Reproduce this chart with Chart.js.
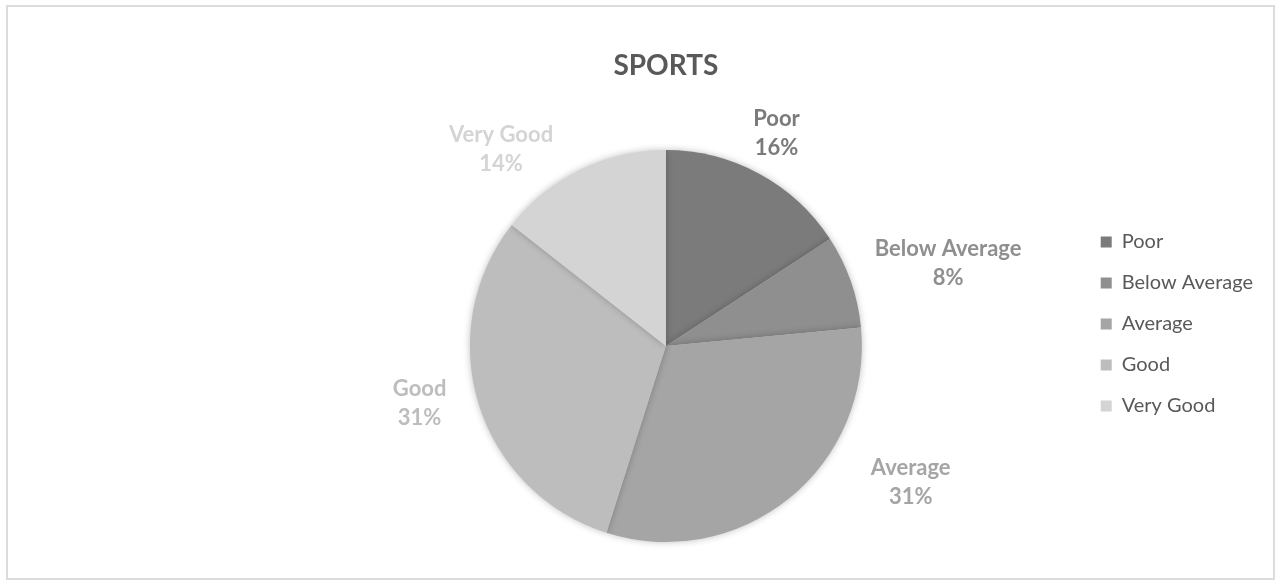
<!DOCTYPE html>
<html>
<head>
<meta charset="utf-8">
<script src="https://cdn.jsdelivr.net/npm/chart.js@4.4.1/dist/chart.umd.min.js"></script>
<style>
  body { margin: 0; background: #fff; }
  .marco { position: absolute; left: 6px; top: 5px; width: 1265px; height: 571px; border: 2px solid #dcdcdc; }
  .lienzo { position: absolute; left: 0; top: 0; width: 1275px; height: 580px; }
</style>
</head>
<body>
<div class="marco"></div>
<div class="lienzo"><canvas id="myChart"></canvas></div>
<script>
const categorias = ["Poor", "Below Average", "Average", "Good", "Very Good"]
const valores = [15.8, 7.7, 31.4, 30.7, 14.4]
const colores = ["#7b7b7b", "#8f8f8f", "#a5a5a5", "#bdbdbd", "#d4d4d4"]
const colorTexto = "#595959"

// donde va cada etiqueta: giro (grados) respecto al centro del sector y distancia en radios
const ubicacionEtiquetas = [
    { giro: -1, dist: 1.225 },
    { giro: 3, dist: 1.5 },
    { giro: -22, dist: 1.43 },
    { giro: 4, dist: 1.29 },
    { giro: -14, dist: 1.31 }
]

const sombraPie = {
    id: "sombraPie",
    beforeDatasetsDraw(chart) {
        const ctx = chart.ctx
        ctx.save()
        ctx.shadowColor = "rgba(0,0,0,0.25)"
        ctx.shadowBlur = 7
    },
    afterDatasetsDraw(chart) {
        chart.ctx.restore()
    }
}

const etiquetas = {
    id: "etiquetas",
    afterDraw(chart) {
        const ctx = chart.ctx
        const meta = chart.getDatasetMeta(0)
        const total = valores.reduce((a, b) => a + b, 0)
        ctx.save()
        ctx.font = "bold 22px Lato"
        ctx.textAlign = "center"
        ctx.textBaseline = "middle"
        meta.data.forEach((arco, i) => {
            const u = ubicacionEtiquetas[i]
            const ang = (arco.startAngle + arco.endAngle) / 2 + u.giro * Math.PI / 180
            const x = arco.x + Math.cos(ang) * arco.outerRadius * u.dist
            const y = arco.y + Math.sin(ang) * arco.outerRadius * u.dist
            const pct = Math.round(valores[i] / total * 100) + "%"
            ctx.fillStyle = colores[i]
            ctx.fillText(categorias[i], x, y - 14.5)
            ctx.fillText(pct, x, y + 14.5)
        })
        ctx.restore()
    }
}

const config = {
    type: "pie",
    data: {
        labels: categorias,
        datasets: [
            {
                data: valores,
                backgroundColor: colores,
                borderWidth: 0
            }
        ]
    },
    options: {
        responsive: true,
        maintainAspectRatio: false,
        animation: false,
        layout: {
            padding: { left: 252, right: 12, top: 0, bottom: 38 }
        },
        plugins: {
            tooltip: { enabled: false },
            title: {
                display: true,
                text: "SPORTS",
                color: colorTexto,
                fullSize: false,
                font: { family: "Lato", size: 28, weight: "bold", lineHeight: 1.2 },
                padding: { top: 49, bottom: 67.4 }
            },
            legend: {
                position: "right",
                align: "start",
                title: {
                    display: true,
                    text: " ",
                    font: { family: "Lato", size: 20, lineHeight: 1.2 },
                    padding: { top: 0, bottom: 187 }
                },
                labels: {
                    color: colorTexto,
                    boxWidth: 11,
                    boxHeight: 11,
                    padding: 21,
                    font: { family: "Lato", size: 20 }
                }
            }
        }
    },
    plugins: [sombraPie, etiquetas]
}

new Chart(document.getElementById("myChart"), config)
</script>
</body>
</html>
